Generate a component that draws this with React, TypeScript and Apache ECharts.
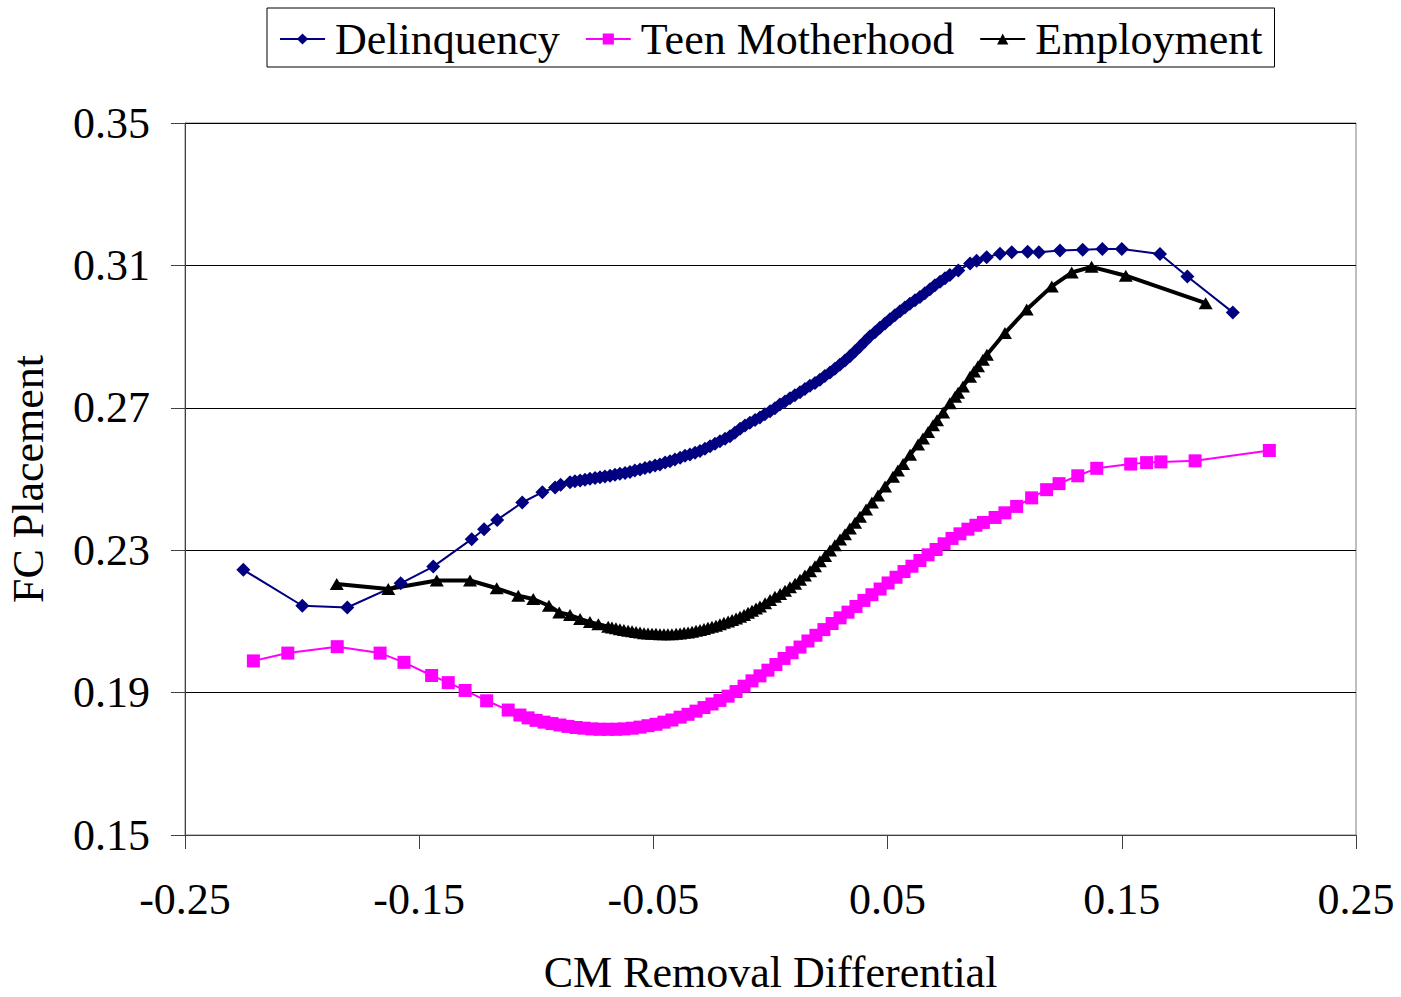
import React, { useEffect, useRef } from "react";
import * as echarts from "echarts";

const seriesNames = ["Delinquency", "Teen Motherhood", "Employment"];

const delinquency: [number, number][] = [
  [-0.2251, 0.2245], [-0.1999, 0.2144], [-0.1807, 0.2139], [-0.1579, 0.2207], [-0.144, 0.2254],
  [-0.1276, 0.2331], [-0.1223, 0.2359], [-0.1167, 0.2385], [-0.106, 0.2434], [-0.0974, 0.2463],
  [-0.092, 0.2476], [-0.0896, 0.2484],
  [-0.0856, 0.2491], [-0.0835, 0.2494], [-0.0813, 0.2496], [-0.0792, 0.2498], [-0.0771, 0.2501],
  [-0.0749, 0.2503], [-0.0728, 0.2505], [-0.0707, 0.2507], [-0.0685, 0.2509], [-0.0664, 0.2512],
  [-0.0643, 0.2515], [-0.0621, 0.2517], [-0.06, 0.252], [-0.0579, 0.2524], [-0.0557, 0.2527],
  [-0.0536, 0.2531], [-0.0515, 0.2534], [-0.0493, 0.2538], [-0.0472, 0.2541], [-0.045, 0.2546],
  [-0.0429, 0.255], [-0.0408, 0.2555], [-0.0386, 0.256], [-0.0365, 0.2565], [-0.0344, 0.2569],
  [-0.0322, 0.2574], [-0.0301, 0.2579], [-0.028, 0.2585], [-0.0258, 0.2592], [-0.0237, 0.2599],
  [-0.0216, 0.2606], [-0.0194, 0.2613], [-0.0173, 0.262], [-0.0152, 0.263], [-0.013, 0.2641],
  [-0.0109, 0.265], [-0.0088, 0.2658], [-0.0066, 0.2666], [-0.0045, 0.2673], [-0.0024, 0.2682],
  [-0.0002, 0.269], [0.0019, 0.2699], [0.004, 0.2709], [0.0062, 0.2718], [0.0083, 0.2727],
  [0.0104, 0.2735], [0.0126, 0.2744], [0.0147, 0.2753], [0.0168, 0.2762], [0.019, 0.277],
  [0.0211, 0.2779], [0.0232, 0.2789], [0.0254, 0.2799], [0.0275, 0.281], [0.0296, 0.2821],
  [0.0318, 0.2833], [0.0339, 0.2845], [0.036, 0.2858], [0.0382, 0.2872], [0.0403, 0.2886],
  [0.0424, 0.29], [0.0446, 0.2912], [0.0467, 0.2925], [0.0489, 0.2937], [0.051, 0.2949],
  [0.0531, 0.296], [0.0553, 0.2971], [0.0574, 0.2982], [0.0595, 0.2992], [0.0617, 0.3002],
  [0.0638, 0.3011], [0.0659, 0.3022], [0.0681, 0.3033], [0.0702, 0.3044], [0.0724, 0.3054],
  [0.0745, 0.3064], [0.0766, 0.3073],
  [0.0802, 0.3086], [0.0852, 0.3105], [0.088, 0.3113], [0.0923, 0.3123], [0.098, 0.3133],
  [0.103, 0.3137], [0.1098, 0.3138], [0.1146, 0.3137], [0.1236, 0.3142], [0.1333, 0.3144],
  [0.1417, 0.3146], [0.15, 0.3146], [0.1663, 0.3132], [0.178, 0.3069], [0.1974, 0.2968],
];

const teenMotherhood: [number, number][] = [
  [-0.2208, 0.1989], [-0.2061, 0.2011], [-0.185, 0.2029], [-0.1667, 0.2011], [-0.1565, 0.1985],
  [-0.1447, 0.1948], [-0.1376, 0.1928], [-0.1304, 0.1906], [-0.1212, 0.1877], [-0.112, 0.1851],
  [-0.107, 0.1837],
  [-0.1035, 0.1829], [-0.1001, 0.1822], [-0.0967, 0.1817], [-0.0933, 0.1813], [-0.0899, 0.1809],
  [-0.0865, 0.1805], [-0.083, 0.1802], [-0.0796, 0.18], [-0.0762, 0.1798], [-0.0728, 0.1797],
  [-0.0694, 0.1797], [-0.066, 0.1797], [-0.0626, 0.1798], [-0.0591, 0.18], [-0.0557, 0.1803],
  [-0.0523, 0.1807], [-0.0489, 0.1811], [-0.0455, 0.1817], [-0.0421, 0.1823], [-0.0386, 0.1831],
  [-0.0352, 0.1839], [-0.0318, 0.1848], [-0.0284, 0.1858], [-0.025, 0.1868], [-0.0216, 0.1878],
  [-0.0181, 0.189], [-0.0147, 0.1903], [-0.0113, 0.1918], [-0.0079, 0.1933], [-0.0045, 0.1947],
  [-0.0011, 0.1963], [0.0023, 0.1979], [0.0058, 0.1996], [0.0092, 0.2012], [0.0126, 0.2028],
  [0.016, 0.2045], [0.0194, 0.2061], [0.0228, 0.2077], [0.0263, 0.2094], [0.0297, 0.211],
  [0.0331, 0.2126], [0.0365, 0.2142], [0.0399, 0.2159], [0.0433, 0.2175], [0.0468, 0.2191],
  [0.0502, 0.2208], [0.0536, 0.2224], [0.057, 0.224], [0.0604, 0.2255], [0.0638, 0.2271],
  [0.0673, 0.2287], [0.0707, 0.2302], [0.0741, 0.2318], [0.0775, 0.2333], [0.0809, 0.2346],
  [0.0843, 0.2359], [0.0877, 0.237],
  [0.0909, 0.2378], [0.0959, 0.2392], [0.1001, 0.2405], [0.1051, 0.2423], [0.1115, 0.2447],
  [0.1179, 0.247], [0.1232, 0.2487], [0.1312, 0.2509], [0.1393, 0.253], [0.1538, 0.2542],
  [0.1606, 0.2546], [0.1667, 0.2548], [0.1813, 0.2551], [0.213, 0.258],
];

const employment: [number, number][] = [
  [-0.1852, 0.2205], [-0.1632, 0.2191], [-0.1425, 0.2215], [-0.1283, 0.2215], [-0.1169, 0.2193],
  [-0.1077, 0.2172], [-0.1013, 0.2163], [-0.0946, 0.2144], [-0.0902, 0.2125], [-0.0856, 0.2118],
  [-0.0813, 0.2107], [-0.0771, 0.2098], [-0.0735, 0.2092], [-0.0693, 0.2085],
  [-0.0677, 0.2083], [-0.066, 0.2081], [-0.0643, 0.2078], [-0.0626, 0.2076], [-0.0608, 0.2074],
  [-0.0591, 0.2072], [-0.0574, 0.207], [-0.0557, 0.2069], [-0.054, 0.2067], [-0.0523, 0.2066],
  [-0.0506, 0.2065], [-0.0489, 0.2065], [-0.0472, 0.2064], [-0.0455, 0.2064], [-0.0438, 0.2064],
  [-0.0421, 0.2064], [-0.0403, 0.2065], [-0.0386, 0.2066], [-0.0369, 0.2068], [-0.0352, 0.2069],
  [-0.0335, 0.2071], [-0.0318, 0.2074], [-0.0301, 0.2076], [-0.0284, 0.2079], [-0.0267, 0.2082],
  [-0.025, 0.2085], [-0.0233, 0.2088], [-0.0216, 0.2092], [-0.0199, 0.2096], [-0.0181, 0.21],
  [-0.0164, 0.2104], [-0.0147, 0.2108], [-0.013, 0.2113], [-0.0113, 0.2118], [-0.0096, 0.2124],
  [-0.0079, 0.213], [-0.0062, 0.2136], [-0.0045, 0.2142],
  [-0.0023, 0.2151], [-0.0002, 0.216], [0.0019, 0.2169], [0.0041, 0.2177], [0.0062, 0.2186],
  [0.0083, 0.2196], [0.0105, 0.2206], [0.0126, 0.2217], [0.0147, 0.2229], [0.0169, 0.2241],
  [0.019, 0.2255], [0.0211, 0.2269], [0.0233, 0.2284], [0.0254, 0.2299], [0.0275, 0.2314],
  [0.0297, 0.233], [0.0318, 0.2345], [0.0339, 0.2361], [0.0361, 0.2377], [0.0382, 0.2394],
  [0.0408, 0.2414], [0.0433, 0.2434], [0.0459, 0.2454], [0.0489, 0.2479], [0.0523, 0.2506],
  [0.0544, 0.2524], [0.0566, 0.2542], [0.0596, 0.2568], [0.063, 0.2597], [0.0651, 0.2614],
  [0.0673, 0.2632], [0.0694, 0.2651], [0.0711, 0.2665], [0.0737, 0.2687], [0.0766, 0.2713],
  [0.0788, 0.2731], [0.0801, 0.2742], [0.0822, 0.276], [0.0852, 0.2787], [0.0869, 0.2802],
  [0.0886, 0.2817], [0.0907, 0.2835], [0.0924, 0.2849],
  [0.1001, 0.291], [0.1094, 0.2976], [0.1201, 0.3041], [0.1286, 0.308], [0.1371, 0.3096],
  [0.1517, 0.3071], [0.1858, 0.2994],
];

const xMin = -0.25;
const xMax = 0.25;
const xStep = 0.1;
const yMin = 0.15;
const yMax = 0.35;
const yStep = 0.04;

export default function App() {
  const ref = useRef<HTMLDivElement>(null);
  useEffect(() => {
    if (!ref.current) return;
    const chart = echarts.init(ref.current, null, { renderer: "svg" });
    const font = "'Liberation Serif', 'Times New Roman', serif";
    chart.setOption({
      animation: false,
      backgroundColor: "#ffffff",
      textStyle: { fontFamily: font, color: "#000" },
      legend: {
        left: 267,
        top: 8,
        padding: [9, 12, 6, 12],
        borderColor: "#000",
        borderWidth: 1,
        itemWidth: 45,
        itemHeight: 14,
        itemGap: 25,
        data: seriesNames,
        textStyle: { fontSize: 44, fontFamily: font, color: "#000", padding: [0, 0, 0, 5] },
      },
      grid: {
        left: 185,
        right: 45,
        top: 123,
        bottom: 162,
        show: true,
        borderColor: "#808080",
        borderWidth: 1,
        backgroundColor: "transparent",
        containLabel: false,
        outerBoundsMode: "none",
      },
      xAxis: {
        type: "value",
        min: xMin,
        max: xMax,
        interval: xStep,
        name: "CM Removal Differential",
        nameLocation: "middle",
        nameGap: 115,
        nameTextStyle: { fontSize: 44, fontFamily: font, color: "#000" },
        axisLine: { show: true, onZero: false, lineStyle: { color: "#404040", width: 1 } },
        axisTick: { show: true, inside: false, length: 14, lineStyle: { color: "#404040" } },
        axisLabel: {
          fontSize: 44,
          fontFamily: font,
          color: "#000",
          margin: 42,
          formatter: (v: number) => v.toFixed(2),
        },
        splitLine: { show: false },
      },
      yAxis: {
        type: "value",
        min: yMin,
        max: yMax,
        interval: yStep,
        name: "FC Placement",
        nameLocation: "middle",
        nameGap: 135,
        nameTextStyle: { fontSize: 44, fontFamily: font, color: "#000" },
        axisLine: { show: true, onZero: false, lineStyle: { color: "#404040", width: 1 } },
        axisTick: { show: true, inside: false, length: 14, lineStyle: { color: "#404040" } },
        axisLabel: {
          fontSize: 44,
          fontFamily: font,
          color: "#000",
          margin: 35,
          formatter: (v: number) => v.toFixed(2),
        },
        splitLine: { show: true, lineStyle: { color: "#000", width: 1 } },
      },
      series: [
        {
          name: seriesNames[0],
          type: "line",
          data: delinquency,
          symbol: "diamond",
          symbolSize: 14,
          color: "#000080",
          lineStyle: { color: "#000080", width: 2 },
          itemStyle: { color: "#000080" },
        },
        {
          name: seriesNames[1],
          type: "line",
          data: teenMotherhood,
          symbol: "rect",
          symbolSize: 13,
          color: "#FF00FF",
          lineStyle: { color: "#FF00FF", width: 2 },
          itemStyle: { color: "#FF00FF" },
        },
        {
          name: seriesNames[2],
          type: "line",
          data: employment,
          symbol: "triangle",
          symbolSize: [14, 12],
          color: "#000000",
          lineStyle: { color: "#000000", width: 4 },
          itemStyle: { color: "#000000" },
        },
      ],
    });
    return () => chart.dispose();
  }, []);
  return (
    <div
      ref={ref}
      style={{ position: "fixed", left: 0, top: 0, width: 1401, height: 997, background: "#fff" }}
    />
  );
}
